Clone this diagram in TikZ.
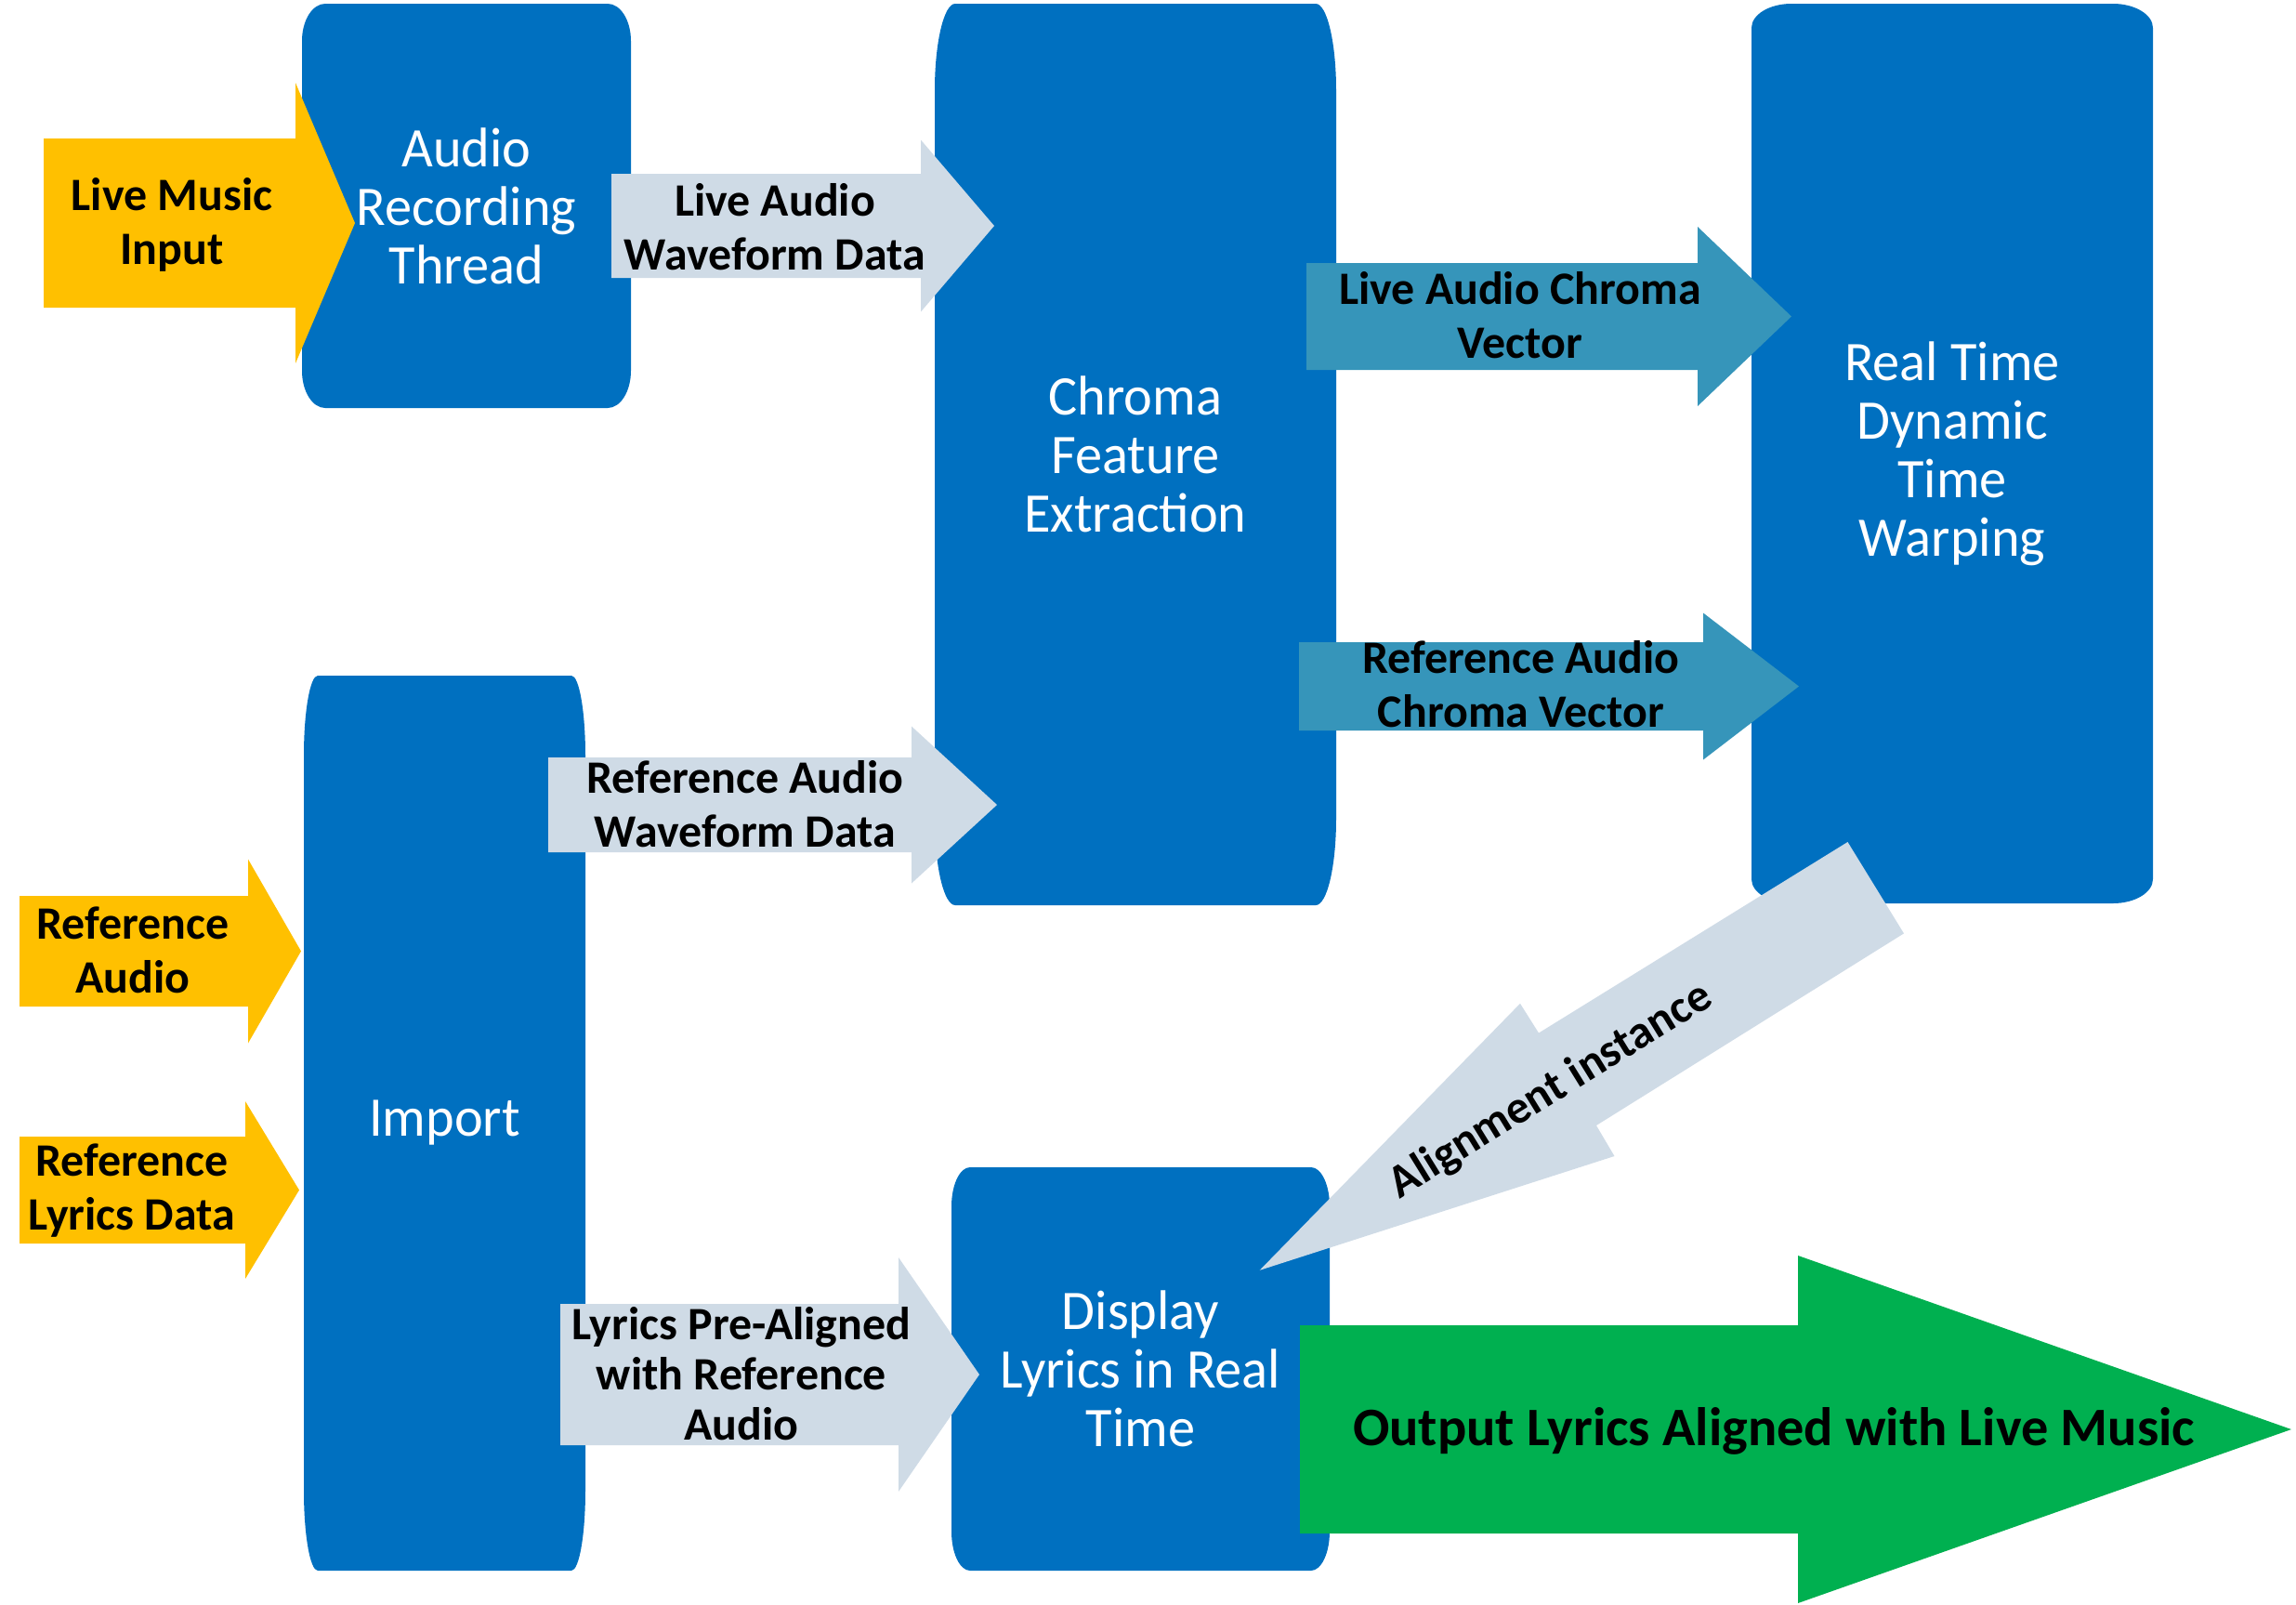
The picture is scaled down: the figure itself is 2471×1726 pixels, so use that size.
\documentclass[tikz,border=0pt]{standalone}
\usepackage{fontspec}
\setmainfont{Carlito}
\newfontfamily\stagefont[FakeStretch=0.97]{Carlito}
\definecolor{boxblue}{RGB}{0,112,192}
\definecolor{inputyellow}{RGB}{255,192,0}
\definecolor{datagray}{RGB}{207,219,230}
\definecolor{chromateal}{RGB}{54,149,186}
\definecolor{outputgreen}{RGB}{0,176,80}

% stage box with elliptic corners: name, x1, y1, x2, y2, rx, ry, text
\newcommand{\stagebox}[8]{%
  \fill[stage] ({#2+#6},#3) -- ({#4-#6},#3)
    .. controls ({#4-0.448*#6},#3) and (#4,{#3+0.448*#7}) .. (#4,{#3+#7})
    -- (#4,{#5-#7})
    .. controls (#4,{#5-0.448*#7}) and ({#4-0.448*#6},#5) .. ({#4-#6},#5)
    -- ({#2+#6},#5)
    .. controls ({#2+0.448*#6},#5) and (#2,{#5-0.448*#7}) .. (#2,{#5-#7})
    -- (#2,{#3+#7})
    .. controls (#2,{#3+0.448*#7}) and ({#2+0.448*#6},#3) .. cycle;
  \node[stagelabel] (#1) at ({(#2+#4)/2},{(#3+#5)/2}) {#8};
}

% block arrow to the right: colour, body left, head base, tip, centre y, half body, half head
\newcommand{\blockarrow}[7]{%
  \fill[#1] (#2,{#5-#6}) -- (#3,{#5-#6}) -- (#3,{#5-#7}) -- (#4,#5)
    -- (#3,{#5+#7}) -- (#3,{#5+#6}) -- (#2,{#5+#6}) -- cycle;
}

\begin{document}
\begin{tikzpicture}[
    x=0.01cm, y=-0.01cm,
    stage/.style={fill=boxblue},
    stagelabel/.style={text=white, align=center, inner sep=0pt, font=\stagefont\fontsize{17.1}{17.9}\selectfont},
    flowlabel/.style={align=center, inner sep=0pt, font=\bfseries\fontsize{14.2}{16.5}\selectfont},
    outlabel/.style={inner sep=0pt, font=\bfseries\fontsize{16.6}{20}\selectfont}
  ]
    \useasboundingbox (0,0) rectangle (2471,1726);

    % Processing stages
    \stagebox{audiorec}{325}{4}{679}{439}{25}{40}{Audio\\Recording\\Thread}
    \stagebox{chroma}{1006}{4}{1438}{974}{22}{93}{Chroma\\Feature\\Extraction}
    \stagebox{dtw}{1885}{4}{2317}{972}{43}{26}{Real Time\\Dynamic\\Time\\Warping}
    \stagebox{import}{327}{727}{630}{1690}{15}{86}{Import}
    \stagebox{display}{1024}{1256}{1431}{1690}{20}{42}{Display\\Lyrics in Real\\Time}

    % Inputs
    \blockarrow{inputyellow}{47}{318}{382}{240}{91}{151}
    \node[flowlabel] (livemusic) at (185,242) {Live Music\\Input};
    \blockarrow{inputyellow}{21}{267}{324}{1023.5}{59.5}{99}
    \node[flowlabel] (refaudio) at (143,1022) {Reference\\Audio};
    \blockarrow{inputyellow}{21}{264}{322}{1280.5}{57.5}{95.5}
    \node[flowlabel] (reflyrics) at (142,1281) {Reference\\Lyrics Data};

    % Waveform data
    \blockarrow{datagray}{658}{991}{1070}{243}{56}{92.5}
    \node[flowlabel] (livewave) at (834,244) {Live Audio\\Waveform Data};
    \blockarrow{datagray}{590}{981}{1073}{866}{51}{84.5}
    \node[flowlabel] (refwave) at (802,865) {Reference Audio\\Waveform Data};
    \blockarrow{datagray}{603}{967}{1054}{1479}{76}{126}
    \node[flowlabel, font=\bfseries\fontsize{14.2}{15.3}\selectfont] (prealigned) at (798,1478) {Lyrics Pre-Aligned\\with Reference\\Audio};

    % Chroma vectors
    \blockarrow{chromateal}{1406}{1827}{1928}{340.5}{57.5}{96.5}
    \node[flowlabel] (livechroma) at (1636,339) {Live Audio Chroma\\Vector};
    \blockarrow{chromateal}{1398}{1833}{1936}{738.5}{47.5}{79}
    \node[flowlabel] (refchroma) at (1637,736) {Reference Audio\\Chroma Vector};

    % Alignment back to display
    \fill[datagray] (1988.5,906) -- (2049,1004.4) -- (1718,1211) -- (1737.5,1244)
      -- (1355.7,1366.8) -- (1636,1079.8) -- (1656,1111.5) -- cycle;
    \node[flowlabel, rotate=31.7] (alignment) at (1669,1174) {Alignment instance};

    % Output
    \blockarrow{outputgreen}{1399}{1935}{2466}{1538}{112}{187}
    \node[outlabel] (output) at (1909,1540) {Output Lyrics Aligned with Live Music};
  \end{tikzpicture}
\end{document}
